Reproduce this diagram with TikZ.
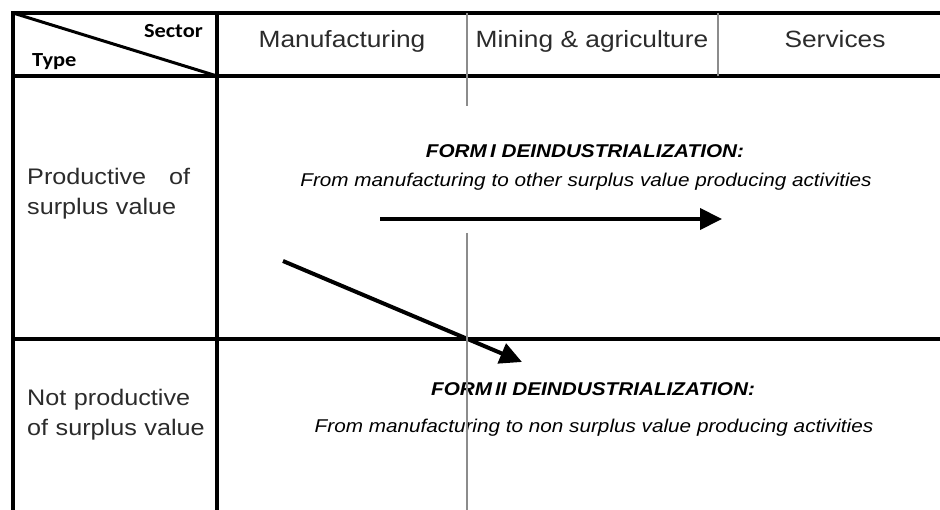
\documentclass[tikz,border=0pt]{standalone}
\usepackage{fontspec}
\setmainfont{Liberation Sans}
\newfontfamily\cellfont[FakeStretch=1.12]{Liberation Sans}
\newfontfamily\cornerfont[FakeStretch=1.12]{Carlito}
\usetikzlibrary{arrows.meta}
\definecolor{RuleGray}{HTML}{8C8C8C}
\definecolor{InkGray}{HTML}{2B2B2B}
\tikzset{
  tablerule/.style={line width=4pt, draw=black},
  softrule/.style={line width=1.8pt, draw=RuleGray},
  colhead/.style={font=\cellfont\fontsize{23.5}{28}\selectfont, text=InkGray, inner sep=0pt},
  cornerlabel/.style={font=\cornerfont\bfseries\fontsize{20}{24}\selectfont, inner sep=0pt},
  rowlabel/.style={font=\cellfont\fontsize{22.5}{30}\selectfont, text=InkGray, text width=185pt, align=left, inner sep=0pt},
  formtitle/.style={font=\cellfont\bfseries\itshape\fontsize{18.5}{22}\selectfont, inner sep=0pt},
  formtext/.style={font=\cellfont\itshape\fontsize{18.5}{22}\selectfont, inner sep=0pt},
  shiftarrow/.style={-{Triangle[length=22pt,width=21pt]}, line width=4pt, draw=black}
}

\begin{document}
\begin{tikzpicture}[x=1pt, y=-1pt]
\useasboundingbox (0,0) rectangle (940,510);

% table frame
\draw[tablerule] (13,11) -- (13,510);
\draw[tablerule] (217,11) -- (217,510);
\draw[tablerule] (11,13) -- (940,13);
\draw[tablerule] (11,76) -- (940,76);
\draw[tablerule] (11,339) -- (940,339);
\draw[line width=3pt] (13,13) -- (217,76);

% header row
\node[cornerlabel, anchor=base east] (sector) at (203,38) {Sector};
\node[cornerlabel, anchor=base west] (type) at (32,67) {Type};
\node[colhead, anchor=base] (manu) at (342,48) {Manufacturing};
\node[colhead, anchor=base] (mining) at (592,48) {Mining \& agriculture};
\node[colhead, anchor=base] (serv) at (835,48) {Services};

% row labels
\node[rowlabel, anchor=west] (prod) at (27,194)
    {\makebox[163pt][l]{Productive\hfill of}\\surplus value};
\node[rowlabel, anchor=west] (nonprod) at (27,415)
    {Not productive\\of surplus value};

% the two forms
\node[formtitle, anchor=base] (formone) at (585,158)
    {FORM\,I DEINDUSTRIALIZATION:};
\node[formtext, anchor=base] (formonetext) at (586,187)
    {From manufacturing to other surplus value producing activities};
\node[formtitle, anchor=base] (formtwo) at (593,396)
    {FORM\,II DEINDUSTRIALIZATION:};
\node[formtext, anchor=base] (formtwotext) at (594,433)
    {From manufacturing to non surplus value producing activities};

\coordinate (oneA) at (380,219);
\coordinate (oneB) at (722,219);
\coordinate (twoA) at (283,261);
\coordinate (twoB) at (522,362);
\draw[shiftarrow] (oneA) -- (oneB);
\draw[shiftarrow] (twoA) -- (twoB);

% thin sector dividers
\draw[softrule] (467,13) -- (467,106);
\draw[softrule] (467,233) -- (467,510);
\draw[softrule] (718,13) -- (718,76);
\end{tikzpicture}
\end{document}
